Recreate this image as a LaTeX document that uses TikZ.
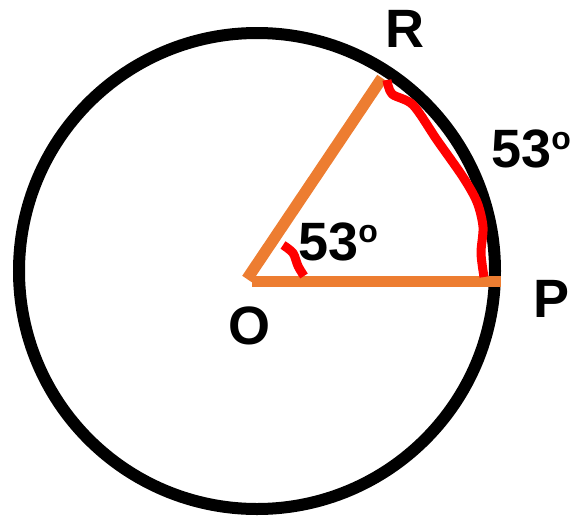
\documentclass[tikz,border=0pt]{standalone}
\usepackage{fontspec}
\setmainfont{Liberation Sans}
\definecolor{sideorange}{HTML}{ED7D31}
\definecolor{arcred}{HTML}{FF0000}
\newcommand\mydeg{\raisebox{18pt}{\fontsize{32}{32}\selectfont o}}
\begin{document}
\begin{tikzpicture}[x=1pt,y=-1pt,
  lbl/.style={font=\fontsize{54}{54}\selectfont\bfseries, inner sep=0pt, anchor=base west},
  side/.style={draw=sideorange, line width=11.5pt},
  mark arc/.style={draw=arcred, line width=9pt, line join=round}]
\useasboundingbox (0,0) rectangle (587,517);
% circle
\coordinate (C) at (257,271);
\draw[line width=12pt] (C) circle[radius=238pt];
% points
\coordinate (O) at (252,281.5);
\coordinate (Os) at (247,279);
\coordinate (P) at (501,281.5);
\coordinate (R) at (382,78);
% radii
\draw[side] (O) -- (P);
\draw[side] (Os) -- (R);
% arc marks
\draw[mark arc] plot[smooth, tension=0.5] coordinates {(387,80) (392,94) (413,105) (437,140) (463,177) (477,202) (483,227) (481,253) (484,277)};
\draw[mark arc] plot[smooth, tension=0.5] coordinates {(283,245) (293,253) (298,266) (304,276)};
% labels
\node[lbl] (lR) at (385,47) {R};
\node[lbl] (lP) at (533,317) {P};
\node[lbl] (lO) at (228,344) {O};
\node[lbl] (lin) at (298,260) {53\mydeg};
\node[lbl] (lout) at (491,167) {53\mydeg};
\end{tikzpicture}
\end{document}
